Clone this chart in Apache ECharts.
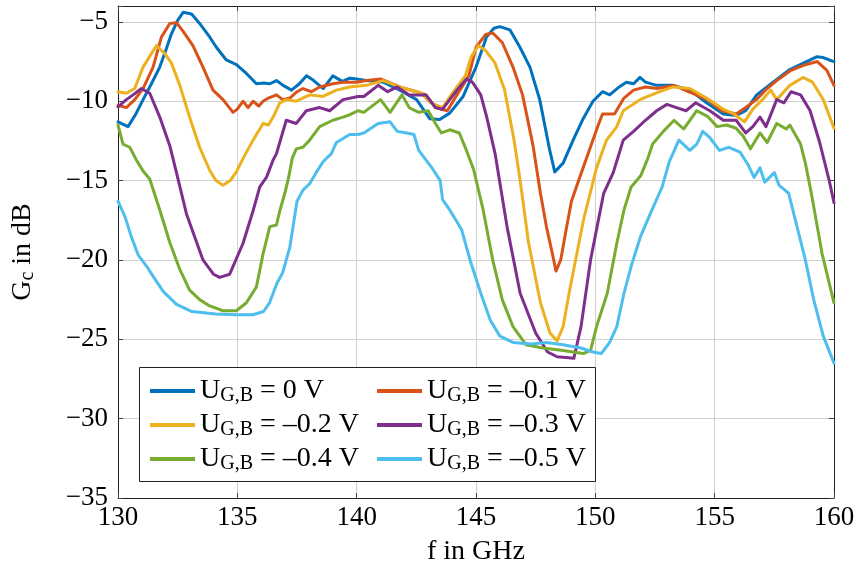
<!DOCTYPE html>
<html><head><meta charset="utf-8">
<script src="https://cdn.jsdelivr.net/npm/echarts@6/dist/echarts.min.js"></script>
<style>html,body{margin:0;padding:0;background:#fff}#c{width:858px;height:574px}</style>
</head><body><div id="c"></div>
<script>
const xTicks = [130, 135, 140, 145, 150, 155, 160];
const yTicks = [-35, -30, -25, -20, -15, -10, -5];
const seriesNames = ['0 V', '–0.1 V', '–0.2 V', '–0.3 V', '–0.4 V', '–0.5 V'];
const colors = ['#0072BD', '#D95319', '#EDB120', '#7E2F8E', '#77AC30', '#4DBEEE'];

// U_GB = 0 V
const f0 = [130,130.42,130.75,131.05,131.4,131.75,132.0,132.24,132.5,132.73,133.08,133.42,133.84,134.12,134.54,134.96,135.38,135.8,136.1,136.36,136.64,136.92,137.27,137.6,137.9,138.2,138.6,139.0,139.4,139.71,140.0,140.4,141.11,141.81,142.51,143.06,143.48,143.9,144.46,145.0,145.44,145.75,146.0,146.42,146.84,147.26,147.67,148.09,148.3,148.65,149.07,149.49,149.9,150.3,150.6,151.0,151.3,151.6,151.87,152.1,152.57,153.26,153.96,154.66,155.36,155.9,156.3,156.76,157.45,158.15,158.85,159.27,159.55,159.8,160];
const g0 = [-11.3,-11.6,-10.8,-9.9,-8.9,-7.85,-6.8,-5.75,-4.9,-4.4,-4.5,-5.1,-5.95,-6.6,-7.4,-7.7,-8.25,-8.9,-8.85,-8.9,-8.7,-9.0,-9.3,-8.9,-8.4,-8.7,-9.2,-8.4,-8.75,-8.55,-8.6,-8.7,-8.8,-9.3,-9.9,-11.1,-11.15,-10.75,-9.7,-7.85,-5.95,-5.4,-5.3,-5.5,-6.6,-7.85,-9.9,-13.1,-14.45,-13.9,-12.45,-11.1,-10.0,-9.4,-9.6,-9.1,-8.8,-8.9,-8.5,-8.8,-9.0,-9.0,-9.3,-10.1,-10.8,-10.9,-10.6,-9.6,-8.8,-8.0,-7.5,-7.2,-7.25,-7.4,-7.5];

// U_GB = -0.1 V
const f1 = [130,130.35,130.7,131.05,131.47,131.82,132.17,132.45,132.73,133.14,133.56,133.98,134.4,134.82,135.0,135.24,135.45,135.66,135.9,136.08,136.3,136.64,136.9,137.2,137.5,137.75,138.1,138.45,139.0,139.43,140.0,140.41,141.0,141.81,142.51,142.9,143.3,143.8,144.2,144.7,145.0,145.4,145.7,146.1,146.55,146.95,147.39,147.7,147.95,148.2,148.35,148.55,148.8,149.0,149.3,149.77,150.1,150.3,150.8,151.2,151.6,152.1,152.6,153.3,153.9,154.7,155.3,155.9,156.3,156.75,157.2,157.6,158.2,158.8,159.3,159.7,160];
const g1 = [-10.25,-10.4,-9.9,-9.2,-7.85,-5.95,-5.1,-5.05,-5.6,-6.5,-7.85,-9.3,-9.9,-10.7,-10.5,-10.0,-10.4,-10.0,-10.3,-10.0,-9.8,-9.6,-9.9,-9.8,-9.4,-9.2,-9.4,-9.1,-8.9,-8.8,-8.8,-8.7,-8.6,-9.1,-9.4,-9.6,-10.4,-10.6,-9.6,-8.4,-6.6,-5.8,-5.7,-6.3,-7.85,-9.6,-12.8,-15.8,-17.9,-19.6,-20.7,-20.0,-17.9,-16.3,-15.0,-13.0,-11.6,-10.8,-10.8,-9.8,-9.3,-9.1,-9.2,-9.0,-9.4,-9.9,-10.6,-10.8,-10.4,-9.9,-9.2,-8.7,-8.05,-7.7,-7.5,-8.05,-9.0];

// U_GB = -0.2 V
const f2 = [130,130.35,130.7,131.05,131.4,131.61,131.96,132.24,132.59,133.0,133.42,133.84,134.1,134.4,134.7,134.96,135.24,135.66,136.08,136.3,136.5,136.78,137.05,137.47,138.03,138.59,139.15,139.71,140.41,141.11,141.81,142.7,143.1,143.6,144.0,144.55,144.8,145.1,145.4,145.8,146.2,146.6,146.85,147.2,147.7,148.1,148.4,148.65,148.9,149.5,150.05,150.47,150.9,151.17,151.87,152.2,152.7,153.26,153.96,154.66,155.36,155.8,156.25,156.6,157.0,157.35,157.6,158.15,158.7,159.1,159.55,160];
const g2 = [-9.4,-9.5,-9.2,-7.85,-7.0,-6.5,-7.0,-7.6,-9.0,-11.0,-12.9,-14.35,-15.0,-15.3,-15.0,-14.45,-13.6,-12.45,-11.4,-11.5,-11.0,-10.1,-9.9,-10.0,-9.6,-9.7,-9.3,-9.1,-9.0,-8.7,-9.1,-9.5,-10.1,-10.4,-9.5,-8.4,-7.2,-6.5,-6.8,-7.6,-9.3,-12.5,-15.0,-18.9,-22.7,-24.6,-25.1,-24.2,-22.1,-17.5,-14.2,-12.45,-11.6,-10.6,-9.9,-9.7,-9.4,-9.1,-9.2,-9.8,-10.5,-10.8,-11.3,-10.5,-9.9,-9.3,-9.9,-9.0,-8.5,-8.8,-9.9,-11.7];

// U_GB = -0.3 V
const f3 = [130,130.35,130.63,130.98,131.33,131.75,132.17,132.45,132.87,133.56,134.0,134.26,134.68,135.24,135.66,135.94,136.22,136.5,136.64,137.05,137.47,137.89,138.45,138.87,139.43,140.06,140.3,140.9,141.3,141.7,142.2,142.9,143.3,143.6,144.2,144.6,144.85,145.2,145.45,145.8,146.3,146.85,147.5,148.0,148.4,149.1,149.4,149.8,150.35,150.75,151.17,151.6,152.1,152.57,153.0,153.4,153.8,154.2,154.8,155.36,155.9,156.3,156.6,156.9,157.15,157.6,157.9,158.2,158.6,159.0,159.4,159.8,160];
const g3 = [-10.35,-9.9,-9.6,-9.2,-9.5,-11.0,-12.8,-14.5,-17.1,-20.0,-20.9,-21.1,-20.9,-18.95,-16.9,-15.4,-14.8,-13.7,-13.3,-11.2,-11.4,-10.6,-10.4,-10.6,-9.9,-9.7,-9.7,-9.0,-9.4,-9.1,-9.6,-9.6,-10.4,-10.5,-9.3,-8.6,-8.8,-9.6,-11.0,-13.3,-17.9,-22.1,-24.6,-25.8,-26.1,-26.2,-24.2,-20.0,-15.8,-14.5,-12.45,-11.9,-11.2,-10.6,-10.2,-10.4,-10.6,-10.1,-10.6,-11.2,-11.2,-12.0,-11.6,-11.0,-11.6,-9.9,-10.1,-9.4,-9.6,-10.6,-12.6,-15.0,-16.4];

// U_GB = -0.4 V
const f4 = [130,130.21,130.49,130.77,131.05,131.33,131.75,132.17,132.59,133.0,133.42,133.84,134.4,134.96,135.38,135.8,136.08,136.36,136.64,136.78,136.99,137.15,137.3,137.47,137.75,138.03,138.45,139.0,139.43,139.71,140.06,140.3,141.0,141.4,141.9,142.2,142.6,143.0,143.3,143.55,143.9,144.3,144.6,144.9,145.3,145.7,146.1,146.55,147.1,147.8,148.65,149.5,149.8,150.05,150.5,150.9,151.2,151.5,151.9,152.2,152.4,152.85,153.3,153.7,154.25,154.7,155.1,155.5,155.9,156.2,156.5,156.9,157.2,157.6,158.0,158.15,158.6,158.8,159.05,159.5,160];
const g4 = [-11.5,-12.7,-12.9,-13.7,-14.4,-14.9,-16.85,-18.9,-20.6,-21.9,-22.5,-22.9,-23.2,-23.2,-22.7,-21.7,-19.6,-17.9,-17.8,-16.9,-15.8,-14.8,-13.6,-13.0,-12.9,-12.45,-11.6,-11.2,-11.0,-10.85,-10.6,-10.7,-9.9,-10.7,-9.6,-10.4,-10.7,-10.6,-11.4,-12.0,-11.8,-12.0,-13.1,-14.3,-16.85,-20.0,-22.5,-24.2,-25.35,-25.55,-25.7,-25.9,-25.7,-24.2,-22.1,-18.95,-16.85,-15.4,-14.7,-13.6,-12.7,-11.9,-11.2,-11.75,-10.6,-10.95,-11.6,-11.5,-11.7,-12.2,-13.0,-12.0,-12.6,-11.4,-11.75,-11.5,-12.7,-13.9,-15.8,-19.6,-22.7];

// U_GB = -0.5 V
const f5 = [130,130.3,130.55,130.85,131.2,131.5,131.9,132.45,133.1,134.1,134.96,135.65,136.1,136.35,136.65,136.9,137.2,137.5,137.75,138.03,138.3,138.6,138.94,139.15,139.71,140.06,140.3,140.9,141.4,141.7,142.1,142.4,142.6,142.9,143.2,143.5,143.6,143.9,144.2,144.4,144.75,145.2,145.6,146.0,146.55,147.3,147.95,148.65,149.4,149.9,150.25,150.6,150.9,151.2,151.5,151.9,152.3,152.8,153.1,153.5,153.96,154.25,154.5,154.8,155.2,155.6,156.06,156.4,156.65,156.9,157.1,157.5,157.7,158.1,158.45,158.8,159.15,159.55,160];
const g5 = [-16.3,-17.3,-18.5,-19.7,-20.4,-21.1,-22.0,-22.8,-23.25,-23.4,-23.45,-23.45,-23.25,-22.7,-21.5,-20.8,-19.2,-16.3,-15.6,-15.2,-14.5,-13.8,-13.3,-12.6,-12.1,-12.1,-12.0,-11.4,-11.3,-11.9,-12.0,-12.1,-13.1,-13.7,-14.3,-15.0,-16.2,-16.85,-17.6,-18.1,-20.0,-22.1,-23.8,-24.8,-25.2,-25.3,-25.2,-25.35,-25.55,-25.8,-25.9,-25.2,-24.2,-22.1,-20.4,-18.5,-17.1,-15.4,-13.8,-12.45,-13.1,-12.7,-11.9,-12.3,-13.1,-12.9,-13.2,-14.0,-14.8,-14.2,-15.1,-14.5,-15.3,-15.8,-17.9,-20.0,-22.5,-24.8,-26.5];

const freqs = [f0, f1, f2, f3, f4, f5];
const gains = [g0, g1, g2, g3, g4, g5];

const FONT = 'Liberation Serif';
const minus = v => (v < 0 ? '\u2212' + Math.abs(v) : String(v));

const chart = echarts.init(document.getElementById('c'), null, {renderer: 'canvas'});

const series = seriesNames.map((n, k) => ({
  name: n,
  type: 'line',
  data: freqs[k].map((x, i) => [x, gains[k][i]]),
  symbol: 'none',
  color: colors[k],
  lineStyle: {width: 3, color: colors[k], join: 'round', cap: 'round'},
  xAxisIndex: 0, yAxisIndex: 0,
  animation: false,
  z: 2
}));

const legendRich = {
  u: {fontFamily: FONT, fontSize: 28, color: '#000', lineHeight: 30},
  s: {fontFamily: FONT, fontSize: 20, color: '#000', lineHeight: 14, verticalAlign: 'bottom'}
};
const legendBase = {
  orient: 'vertical',
  top: 372,
  icon: 'rect',
  itemWidth: 45,
  itemHeight: 4,
  itemGap: 5,
  z: 20,
  selectedMode: false,
  formatter: n => '{u|U}{s|G,B}{u| = ' + n + '}',
  textStyle: {rich: legendRich}
};

const gridLine = {show: true, lineStyle: {color: '#d0d0d0', width: 1}};
const axisLineStyle = {show: true, lineStyle: {color: '#222', width: 1}};
const tickStyle = {show: true, inside: true, length: 5, lineStyle: {color: '#444', width: 1}};

const option = {
  animation: false,
  backgroundColor: '#fff',
  grid: {left: 118, right: 24, top: 6, bottom: 76, containLabel: false},
  graphic: [{
    type: 'rect', z: 10,
    shape: {x: 139.5, y: 367.5, width: 456, height: 114},
    style: {fill: '#fff', stroke: '#222', lineWidth: 1}
  }],
  legend: [
    Object.assign({}, legendBase, {left: 145, data: [seriesNames[0], seriesNames[2], seriesNames[4]]}),
    Object.assign({}, legendBase, {left: 372, data: [seriesNames[1], seriesNames[3], seriesNames[5]]})
  ],
  xAxis: [{
    type: 'value', min: xTicks[0], max: xTicks[xTicks.length - 1], interval: 5,
    position: 'bottom',
    name: 'f in GHz', nameLocation: 'middle', nameGap: 40,
    nameTextStyle: {fontFamily: FONT, fontSize: 28, color: '#000'},
    axisLine: axisLineStyle, axisTick: tickStyle, splitLine: gridLine,
    axisLabel: {fontFamily: FONT, fontSize: 27, color: '#000', margin: 6, formatter: v => xTicks.includes(v) ? String(v) : ''}
  }, {
    type: 'value', min: xTicks[0], max: xTicks[xTicks.length - 1], interval: 5,
    position: 'top', axisLine: axisLineStyle, axisTick: tickStyle,
    splitLine: {show: false}, axisLabel: {show: false}
  }],
  yAxis: [{
    type: 'value', min: yTicks[0], max: -4, interval: 5,
    position: 'left',
    name: '{a|G}{b|c}{a| in dB}', nameLocation: 'middle', nameGap: 80, nameRotate: 90,
    nameTextStyle: {rich: {
      a: {fontFamily: FONT, fontSize: 28, color: '#000', lineHeight: 30},
      b: {fontFamily: FONT, fontSize: 20, color: '#000', lineHeight: 14, verticalAlign: 'bottom'}
    }},
    axisLine: axisLineStyle, axisTick: tickStyle, splitLine: gridLine,
    axisLabel: {fontFamily: FONT, fontSize: 27, color: '#000', margin: 10, formatter: v => yTicks.includes(v) ? minus(v) : ''}
  }, {
    type: 'value', min: yTicks[0], max: -4, interval: 5,
    position: 'right', axisLine: axisLineStyle, axisTick: tickStyle,
    splitLine: {show: false}, axisLabel: {show: false}
  }],
  series: series
};
chart.setOption(option);
</script>
</body></html>
